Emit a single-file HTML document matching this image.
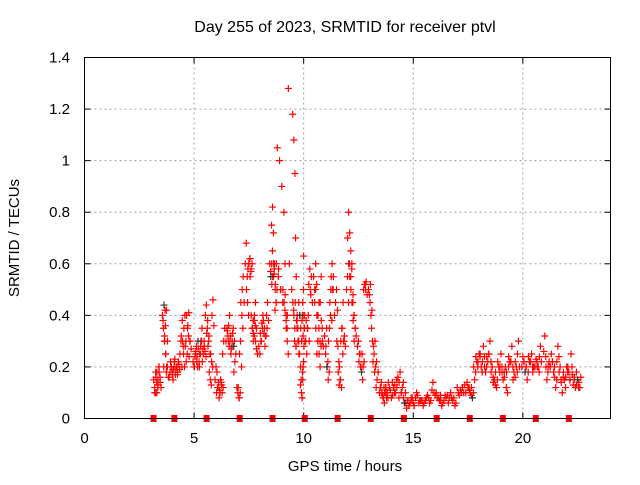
<!DOCTYPE html>
<html><head><meta charset="utf-8"><style>
body{margin:0;background:#fff;width:640px;height:480px;overflow:hidden}
svg text{font-family:"Liberation Sans",sans-serif;font-size:15px;fill:#000}
</style></head><body>
<svg id="chart" width="640" height="480" xmlns="http://www.w3.org/2000/svg">
<text x="345" y="32" text-anchor="middle" style="font-size:16px">Day 255 of 2023, SRMTID for receiver ptvl</text>
<text x="345" y="471" text-anchor="middle">GPS time / hours</text>
<text transform="translate(19,238) rotate(-90)" text-anchor="middle">SRMTID / TECUs</text>
<g id="grid"></g>
<g id="ticks"></g>
<g id="marks"></g>
<g id="squares"></g>
<rect x="84.5" y="57.5" width="526" height="361" fill="none" stroke="#000" stroke-width="1"/>
</svg>
<script>
const xTicks=[0,5,10,15,20];
const yTicks=[0,0.2,0.4,0.6,0.8,1,1.2,1.4];
const yTickLabels=["0","0.2","0.4","0.6","0.8","1","1.2","1.4"];
const markerTimes=[3.15,4.1,5.57,7.08,8.58,10.05,11.55,13.06,14.57,16.07,17.58,19.09,20.59,22.1];
const times=[3.2,3.25,3.3,3.35,3.4,3.45,3.6,3.63,3.66,3.7,3.74,3.78,3.9,3.97,4.04,4.1,4.17,4.24,4.3,4.4,4.46,4.52,4.58,4.64,4.7,4.76,4.82,5.0,5.06,5.12,5.18,5.24,5.3,5.36,5.42,5.5,5.56,5.62,5.68,5.74,5.8,5.86,6.0,6.07,6.14,6.21,6.28,6.35,6.5,6.56,6.62,6.68,6.74,6.8,6.86,7.0,7.06,7.12,7.18,7.24,7.38,7.44,7.5,7.55,7.6,7.65,7.7,7.75,7.8,7.85,8.0,8.07,8.14,8.21,8.28,8.35,8.5,8.54,8.58,8.62,8.66,8.7,8.74,8.8,8.9,9.0,9.1,9.15,9.2,9.25,9.3,9.5,9.55,9.6,9.63,9.66,9.7,9.74,9.78,9.82,9.86,9.9,9.93,9.95,9.97,9.99,10.0,10.02,10.07,10.14,10.21,10.28,10.35,10.5,10.55,10.6,10.65,10.7,10.75,10.8,10.85,11.0,11.06,11.12,11.18,11.24,11.3,11.36,11.5,11.56,11.62,11.68,11.74,11.8,11.86,12.0,12.05,12.1,12.15,12.2,12.25,12.3,12.35,12.5,12.57,12.64,12.71,12.78,12.85,13.0,13.07,13.14,13.21,13.28,13.35,13.5,13.56,13.62,13.68,13.74,13.8,13.86,14.0,14.1,14.2,14.3,14.4,14.5,14.6,14.7,14.8,14.9,15.0,15.15,15.3,15.45,15.6,15.75,15.9,16.05,16.2,16.3,16.45,16.6,16.75,16.9,17.05,17.2,17.35,17.5,17.6,17.7,17.8,17.9,18.0,18.1,18.2,18.3,18.4,18.5,18.6,18.7,18.8,18.9,19.0,19.1,19.2,19.3,19.4,19.5,19.6,19.7,19.8,20.0,20.1,20.2,20.3,20.4,20.5,20.6,20.7,20.8,21.0,21.1,21.2,21.3,21.4,21.5,21.6,21.7,21.8,21.9,22.0,22.1,22.2,22.3,22.4,22.5,22.6,22.7,22.8];
const values=[0.12,0.18,0.1,0.15,0.2,0.14,0.35,0.44,0.3,0.25,0.42,0.2,0.18,0.2,0.15,0.22,0.19,0.17,0.21,0.3,0.38,0.25,0.4,0.22,0.35,0.41,0.3,0.2,0.25,0.22,0.3,0.2,0.28,0.35,0.25,0.26,0.44,0.38,0.32,0.15,0.22,0.46,0.2,0.12,0.08,0.15,0.1,0.3,0.35,0.3,0.4,0.25,0.3,0.28,0.22,0.1,0.08,0.3,0.4,0.55,0.68,0.45,0.6,0.62,0.58,0.35,0.3,0.38,0.45,0.27,0.25,0.3,0.4,0.35,0.32,0.45,0.55,0.6,0.82,0.72,0.58,0.5,0.45,1.05,1.0,0.9,0.8,0.6,0.4,0.3,1.28,1.18,1.08,0.95,0.7,0.55,0.35,0.3,0.45,0.4,0.2,0.1,0.08,0.15,0.32,0.5,0.63,0.35,0.3,0.25,0.4,0.58,0.55,0.5,0.6,0.4,0.3,0.45,0.2,0.55,0.3,0.25,0.2,0.15,0.35,0.5,0.6,0.55,0.5,0.28,0.13,0.15,0.35,0.45,0.32,0.55,0.8,0.72,0.65,0.6,0.48,0.4,0.35,0.3,0.25,0.18,0.2,0.52,0.53,0.48,0.4,0.3,0.25,0.2,0.15,0.12,0.1,0.08,0.06,0.12,0.1,0.14,0.08,0.12,0.1,0.16,0.18,0.12,0.06,0.04,0.05,0.08,0.06,0.1,0.07,0.05,0.08,0.06,0.14,0.1,0.07,0.05,0.09,0.06,0.08,0.05,0.1,0.1,0.13,0.12,0.1,0.08,0.15,0.22,0.25,0.2,0.28,0.18,0.22,0.3,0.2,0.15,0.12,0.2,0.25,0.15,0.2,0.1,0.22,0.28,0.18,0.2,0.3,0.24,0.18,0.15,0.22,0.25,0.2,0.23,0.2,0.28,0.32,0.15,0.22,0.25,0.18,0.12,0.28,0.2,0.1,0.15,0.2,0.18,0.25,0.13,0.12,0.15,0.12];
const values2=[0.15,0.1,0.16,0.18,0.13,0.18,0.4,0.38,0.2,0.32,0.36,0.18,0.16,0.22,0.18,0.19,0.23,0.2,0.18,0.25,0.32,0.3,0.35,0.28,0.4,0.36,0.24,0.22,0.2,0.26,0.24,0.27,0.25,0.3,0.22,0.3,0.4,0.33,0.28,0.18,0.25,0.4,0.15,0.1,0.12,0.11,0.14,0.25,0.3,0.34,0.36,0.3,0.27,0.33,0.18,0.12,0.12,0.25,0.45,0.5,0.6,0.5,0.58,0.6,0.55,0.4,0.35,0.33,0.4,0.3,0.28,0.33,0.37,0.38,0.28,0.4,0.6,0.57,0.75,0.65,0.55,0.56,0.42,0.6,0.58,0.5,0.5,0.45,0.48,0.35,0.4,0.5,0.45,0.4,0.3,0.45,0.28,0.38,0.35,0.3,0.25,0.13,0.15,0.3,0.38,0.4,0.45,0.4,0.35,0.3,0.35,0.52,0.5,0.55,0.45,0.35,0.25,0.4,0.25,0.45,0.38,0.32,0.28,0.2,0.3,0.45,0.55,0.5,0.45,0.3,0.18,0.2,0.3,0.35,0.3,0.5,0.7,0.6,0.55,0.5,0.45,0.38,0.3,0.28,0.22,0.2,0.25,0.5,0.52,0.5,0.45,0.35,0.22,0.18,0.12,0.1,0.12,0.1,0.08,0.1,0.12,0.1,0.11,0.09,0.13,0.12,0.14,0.1,0.08,0.06,0.07,0.06,0.08,0.08,0.06,0.07,0.07,0.08,0.11,0.09,0.08,0.07,0.07,0.09,0.1,0.08,0.12,0.11,0.1,0.14,0.11,0.12,0.2,0.24,0.22,0.25,0.22,0.2,0.24,0.25,0.18,0.14,0.18,0.22,0.2,0.18,0.16,0.18,0.24,0.22,0.15,0.22,0.25,0.2,0.22,0.2,0.24,0.22,0.18,0.2,0.2,0.24,0.26,0.2,0.2,0.2,0.22,0.16,0.22,0.18,0.14,0.18,0.16,0.2,0.15,0.17,0.16,0.13,0.14];
const values3=[0.1,0.14,0.12,0.2,0.16,0.12,0.3,0.42,0.25,0.2,0.3,0.16,0.2,0.17,0.2,0.17,0.2,0.22,0.19,0.2,0.28,0.2,0.3,0.25,0.32,0.3,0.27,0.24,0.28,0.2,0.22,0.25,0.3,0.27,0.28,0.24,0.35,0.3,0.25,0.13,0.2,0.36,0.18,0.14,0.1,0.13,0.12,0.35,0.32,0.28,0.32,0.28,0.35,0.3,0.25,0.08,0.1,0.2,0.35,0.45,0.55,0.4,0.62,0.57,0.6,0.38,0.32,0.36,0.35,0.25,0.3,0.35,0.33,0.32,0.35,0.38,0.52,0.55,0.6,0.6,0.52,0.45,0.5,0.55,0.5,0.45,0.42,0.38,0.35,0.25,0.6,0.42,0.35,0.28,0.38,0.4,0.3,0.25,0.4,0.35,0.3,0.18,0.2,0.22,0.28,0.35,0.4,0.3,0.38,0.35,0.3,0.48,0.45,0.5,0.52,0.3,0.35,0.3,0.28,0.35,0.28,0.35,0.22,0.18,0.4,0.38,0.5,0.4,0.42,0.22,0.15,0.12,0.25,0.3,0.28,0.45,0.6,0.55,0.58,0.45,0.4,0.35,0.32,0.25,0.2,0.15,0.22,0.5,0.48,0.52,0.42,0.28,0.3,0.22,0.18,0.14,0.09,0.12,0.1,0.08,0.08,0.12,0.14,0.1,0.15,0.08,0.1,0.14,0.1,0.07,0.06,0.07,0.05,0.09,0.07,0.06,0.09,0.07,0.1,0.08,0.09,0.06,0.08,0.08,0.07,0.06,0.09,0.12,0.1,0.12,0.09,0.1,0.18,0.2,0.24,0.18,0.24,0.2,0.25,0.22,0.16,0.13,0.15,0.18,0.2,0.18,0.12,0.2,0.22,0.2,0.16,0.18,0.2,0.22,0.2,0.18,0.22,0.2,0.2,0.22,0.18,0.22,0.24,0.18,0.2,0.22,0.2,0.15,0.24,0.15,0.16,0.12,0.18,0.15,0.2,0.15,0.18,0.12,0.16];
const X0=84.5,X1=610.5,Y0=418.5,Y1=57.5;
const xs=t=>X0+(t/24)*(X1-X0);
const ys=v=>Y0-(v/1.4)*(Y0-Y1);
const NS="http://www.w3.org/2000/svg";
function mk(tag,attrs,parent){const e=document.createElementNS(NS,tag);for(const k in attrs)e.setAttribute(k,attrs[k]);parent.appendChild(e);return e;}
const grid=document.getElementById('grid'),ticks=document.getElementById('ticks'),marks=document.getElementById('marks'),sq=document.getElementById('squares');
xTicks.forEach(t=>{const x=xs(t);
 if(t>0){const g=mk('line',{x1:x,x2:x,y1:Y1,y2:Y0,stroke:'#a0a0a0','stroke-dasharray':'2,3'},grid);
 
 }
 mk('line',{x1:x,x2:x,y1:Y0,y2:Y0-6,stroke:'#000'},ticks);
 mk('line',{x1:x,x2:x,y1:Y1,y2:Y1+6,stroke:'#000'},ticks);
 const l=mk('text',{x:x,y:443,'text-anchor':'middle'},ticks);l.textContent=t;
 
 
});
yTicks.forEach((v,i)=>{const y=ys(v);
 if(v>0&&v<1.4){const g=mk('line',{x1:X0,x2:X1,y1:y,y2:y,stroke:'#a0a0a0','stroke-dasharray':'2,3'},grid);
 
 }
 mk('line',{x1:X0,x2:X0+6,y1:y,y2:y,stroke:'#000'},ticks);
 mk('line',{x1:X1,x2:X1-6,y1:y,y2:y,stroke:'#000'},ticks);
 const l=mk('text',{x:70,y:y+5,'text-anchor':'end'},ticks);l.textContent=yTickLabels[i];
 
 
});
function drawSeries(vals,off){
 times.forEach((t,i)=>{const x=xs(t)+off,y=ys(vals[i]);
  const p=mk('path',{d:`M${x-3.5},${y}h7M${x},${y-3.5}v7`,stroke:(i%23==7&&off==0)?'#333':'#f00','stroke-width':1.2,fill:'none'},marks);
  
  
 });
}
drawSeries(values3,1);
drawSeries(values2,-1);
drawSeries(values,0);
markerTimes.forEach(t=>{const r=mk('rect',{x:xs(t)-3,y:Y0-3.5,width:6,height:7,fill:'#f00'},sq);
 
 
});
</script>
</body></html>
